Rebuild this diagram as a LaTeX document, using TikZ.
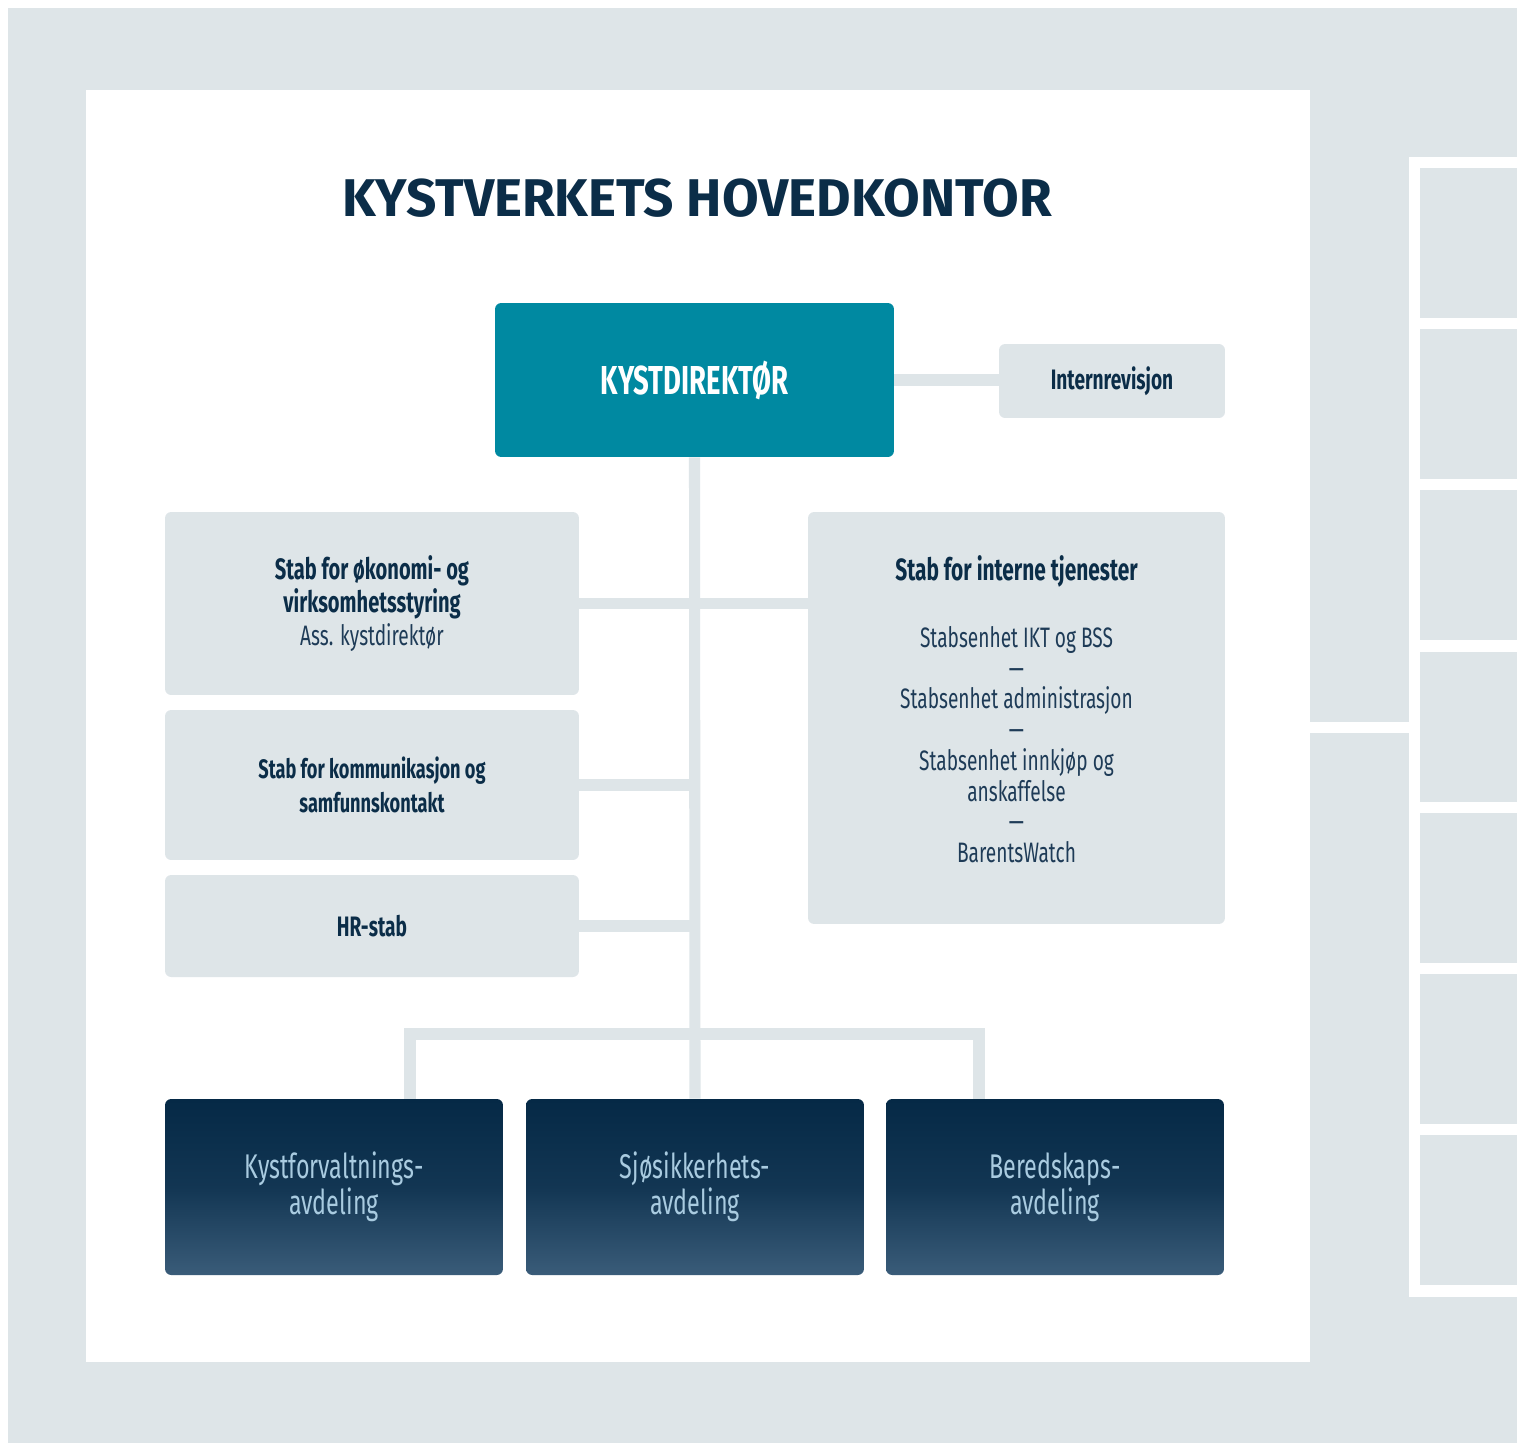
\documentclass[tikz,border=0pt]{standalone}
\usepackage{fontspec}
\setmainfont{Fira Sans}
\newfontfamily\condfont[FakeStretch=0.68]{Fira Sans}
\definecolor{bggray}{HTML}{DEE5E8}
\definecolor{navy}{HTML}{0B2D48}
\definecolor{kdteal}{HTML}{0089A1}
\definecolor{deptTop}{HTML}{052946}
\definecolor{deptBot}{HTML}{3A5C79}
\definecolor{deptText}{HTML}{A9CBE0}
\definecolor{bodytext}{HTML}{1E3B57}
\tikzset{
  stabbox/.style={fill=bggray,rounded corners=3.5pt,align=center,inner sep=0pt,text=navy,
    font=\condfont\fontsize{16}{19}\selectfont},
  deptbox/.style={top color=deptTop,bottom color=deptBot,middle color=deptTop!75!deptBot,
    rounded corners=3.5pt,minimum width=6.76cm,minimum height=3.52cm,align=center,
    text=deptText,font=\condfont\fontsize{19.5}{20.5}\selectfont},
  link/.style={draw=bggray,line width=6.3pt}
}
\newcommand{\light}[1]{{\mdseries\color{bodytext}#1}}

\begin{document}
\begin{tikzpicture}[x=0.02cm,y=-0.02cm]
    \useasboundingbox (0,0) rectangle (1517,1443);
    % background and panel
    \fill[bggray] (8,8) rectangle (1517,1443);
    \fill[white] (86,90) rectangle (1310,1362);
    \fill[white] (1310,722) rectangle (1409,733);
    \fill[white] (1409,157) rectangle (1517,1297);
    \foreach \i in {0,...,6}
      \fill[bggray] (1420,168+161.2*\i) rectangle ++(97,150);

    \node[text=navy,font=\bfseries\fontsize{30.2}{34}\selectfont] (title) at (697,198) {KYSTVERKETS HOVEDKONTOR};

    \node[fill=kdteal,rounded corners=3.5pt,minimum width=7.98cm,minimum height=3.08cm,text=white,
      font=\condfont\bfseries\fontsize{23}{26}\selectfont] (kd) at (694.5,380) {KYSTDIREKTØR};
    \node[stabbox,minimum width=4.52cm,minimum height=1.48cm,font=\condfont\bfseries\fontsize{16}{19}\selectfont]
      (intrev) at (1112,381) {Internrevisjon};

    \node[stabbox,minimum width=8.28cm,minimum height=3.66cm] (okon) at (372,603.5)
      {\bfseries\fontsize{16.8}{19}\selectfont Stab for økonomi- og\\ \bfseries\fontsize{16.8}{19}\selectfont virksomhetsstyring\\ \light{Ass. kystdirektør}};
    \node[stabbox,minimum width=8.28cm,minimum height=3cm,font=\condfont\bfseries\fontsize{15.2}{19}\selectfont]
      (komm) at (372,785) {Stab for kommunikasjon og\\ samfunnskontakt};
    \node[stabbox,minimum width=8.28cm,minimum height=2.04cm,font=\condfont\bfseries\fontsize{16}{19}\selectfont]
      (hr) at (372,926) {HR-stab};
    \node[stabbox,minimum width=8.34cm,minimum height=8.24cm,font=\condfont\fontsize{16}{17.5}\selectfont]
      (intern) at (1016.5,718)
      {{\bfseries\fontsize{17.5}{19}\selectfont Stab for interne tjenester}\\[20.5pt]
       \light{Stabsenhet IKT og BSS}\\ \light{—}\\ \light{Stabsenhet administrasjon}\\ \light{—}\\
       \light{Stabsenhet innkjøp og}\\ \light{anskaffelse}\\ \light{—}\\ \light{BarentsWatch}\\[-7.5pt]\mbox{}};

    \node[deptbox] (kyst) at (334,1187) {Kystforvaltnings-\\avdeling};
    \node[deptbox] (sjo) at (695,1187) {Sjøsikkerhets-\\avdeling};
    \node[deptbox] (bered) at (1055,1187) {Beredskaps-\\avdeling};

    % connectors
    \coordinate (busL) at (410,1034);
    \coordinate (busR) at (979,1034);
    \draw[link] (kd.east) -- (kd.east -| intrev.west);
    \draw[link] (kd.south) -- (sjo.north);
    \draw[link] (okon.east) -- (okon.east -| intern.west);
    \draw[link] (komm.east) -- (komm.east -| kd.south);
    \draw[link] (hr.east) -- (hr.east -| kd.south);
    \draw[link] (busL |- kyst.north) -- (busL) -- (busR) -- (busR |- bered.north);
\end{tikzpicture}
\end{document}
